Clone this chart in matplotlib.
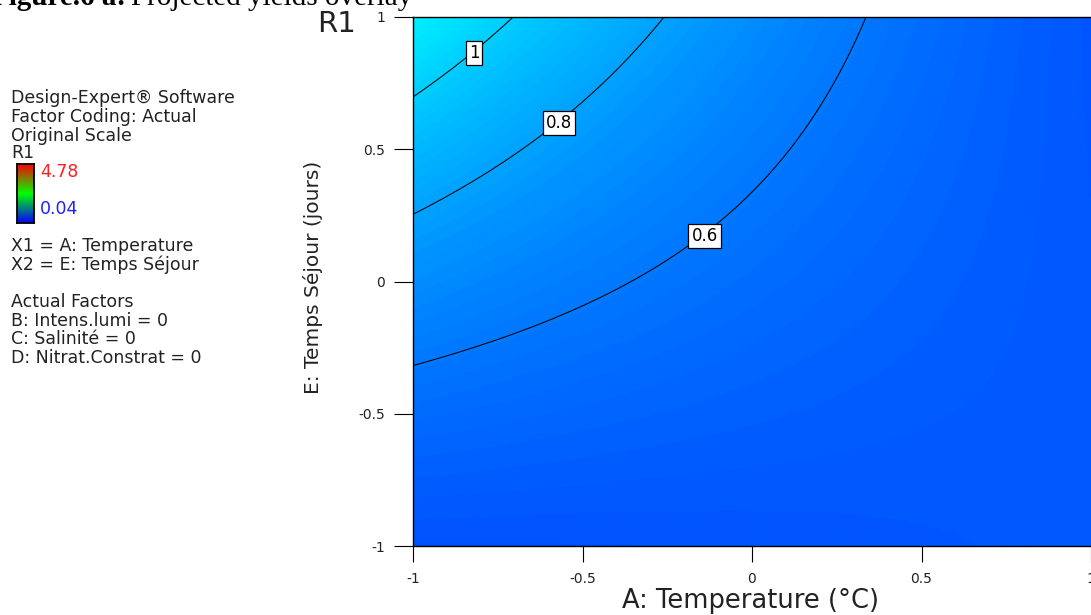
import numpy as np
import matplotlib
matplotlib.use("Agg")
import matplotlib.pyplot as plt
from matplotlib.colors import LinearSegmentedColormap, Normalize

# ---------------- data ----------------
# fitted response model, ln(R1) in coded factors A (Temperature) and E (Temps Sejour)
model_terms = ["Intercept", "A", "E", "AE", "A^2"]
model_coefs = [-0.593, -0.224, 0.243, -0.26, 0.018]
r1_min = 0.04
r1_max = 4.78
contour_levels = [0.6, 0.8, 1.0]
contour_texts = ["0.6", "0.8", "1"]
label_A = [-0.153, -0.578, -0.832]
label_E = [0.202, 0.621, 0.890]
tick_values = [-1, -0.5, 0, 0.5, 1]
tick_labels = ["-1", "-0.5", "0", "0.5", "1"]
legend_head = ["Design-Expert® Software", "Factor Coding: Actual", "Original Scale", "R1"]
legend_factors = ["X1 = A: Temperature", "X2 = E: Temps Séjour"]
legend_actual = ["Actual Factors", "B: Intens.lumi = 0", "C: Salinité = 0", "D: Nitrat.Constrat = 0"]

# ---------------- figure ----------------
W, H = 1091, 615
fig = plt.figure(figsize=(W / 100, H / 100), dpi=100)
fig.patch.set_facecolor("white")


def fx(px):
    return px / W


def fy(py):
    return 1 - py / H


ax = fig.add_axes([fx(413), fy(546), 678 / W, 529 / H])

a = np.linspace(-1, 1, 401)
e = np.linspace(-1, 1, 401)
AA, EE = np.meshgrid(a, e)
term_values = {"Intercept": np.ones_like(AA), "A": AA, "E": EE, "AE": AA * EE, "A^2": AA ** 2}
lnR = sum(c * term_values[t] for t, c in zip(model_terms, model_coefs))
R = np.exp(lnR)

surface_cmap = LinearSegmentedColormap.from_list(
    "de", ["#0000ff", "#00ffff", "#00ff00", "#ffff00", "#ff0000"])
ax.imshow(R, extent=(-1, 1, -1, 1), origin="lower", cmap=surface_cmap,
          norm=Normalize(r1_min, r1_max), aspect="auto", interpolation="bilinear")
cs = ax.contour(AA, EE, R, levels=contour_levels, colors="black", linewidths=0.75)
fmt = {lev: txt for lev, txt in zip(contour_levels, contour_texts)}
texts = ax.clabel(cs, fmt=fmt, manual=list(zip(label_A, label_E)), inline=False, fontsize=12)
for t in texts:
    t.set_rotation(0)
    t.set_color("black")
    t.set_va("center_baseline")
    t.set_bbox(dict(facecolor="white", edgecolor="black", boxstyle="square,pad=0.18", linewidth=0.9))
    t.set_zorder(6)

ax.set_xlim(-1, 1)
ax.set_ylim(-1, 1)
ax.set_xticks(tick_values)
ax.set_xticklabels(tick_labels)
ax.set_yticks(tick_values)
ax.set_yticklabels(tick_labels)
ax.tick_params(axis="y", length=13.5, width=0.8, pad=6.5, labelsize=10, colors="black", labelcolor="#222222")
ax.tick_params(axis="x", length=11.5, width=0.8, pad=7, labelsize=10, colors="black", labelcolor="#222222")
for s in ["left", "bottom", "top"]:
    ax.spines[s].set_linewidth(1.0)
    ax.spines[s].set_color("black")
ax.spines["right"].set_visible(False)

ax.set_xlabel("A: Temperature (°C)", fontsize=18.5, color="#222222")
ax.xaxis.label.set_va("center")
ax.xaxis.set_label_coords(0.5 - 2 / 678, (546 - 601) / 529)
ax.set_ylabel("E: Temps Séjour (jours)", fontsize=14.5, color="#222222")
ax.yaxis.label.set_va("center")
ax.yaxis.set_label_coords((313 - 413) / 678, 0.5 + (281.5 - 277) / 529)

# title "R1"
fig.text(fx(337), fy(24), "R1", fontsize=21, ha="center", va="center", color="#222222")

# caption, clipped at top and left
fig.text(fx(126), fy(5), "Figure.6 a:", family="Liberation Serif", fontweight="bold",
         fontsize=21, ha="right", va="baseline", color="black")
fig.text(fx(131), fy(5), "Projected yields overlay", family="Liberation Serif",
         fontsize=21, ha="left", va="baseline", color="black")

# legend block
for txt, py in zip(legend_head, [98, 117, 136, 153]):
    fig.text(fx(11), fy(py), txt, fontsize=12.5, ha="left", va="center", color="#222222")
for txt, py in zip(legend_factors, [246, 265]):
    fig.text(fx(11), fy(py), txt, fontsize=12.5, ha="left", va="center", color="#222222")
for txt, py in zip(legend_actual, [302, 321, 339, 358]):
    fig.text(fx(11), fy(py), txt, fontsize=12.5, ha="left", va="center", color="#222222")
fig.text(fx(40), fy(172), f"{r1_max:.2f}", fontsize=12.5, ha="left", va="center", color="#ff2020")
fig.text(fx(40), fy(209), f"{r1_min:.2f}", fontsize=12.5, ha="left", va="center", color="#2020ff")

legend_cmap = LinearSegmentedColormap.from_list("lg", ["#0000ff", "#00ff00", "#ff0000"])
cax = fig.add_axes([fx(17), fy(223), 17 / W, 59 / H])
cax.imshow(np.linspace(0, 1, 256).reshape(-1, 1), origin="lower", cmap=legend_cmap, aspect="auto")
cax.set_xticks([])
cax.set_yticks([])
for s in cax.spines.values():
    s.set_linewidth(1.3)
    s.set_color("black")

fig.savefig("out.png", dpi=100)
